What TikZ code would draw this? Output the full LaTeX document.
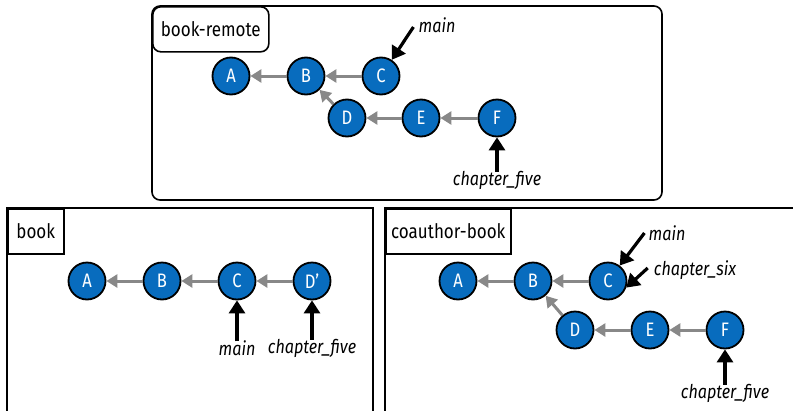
\documentclass[tikz,border=0pt]{standalone}
\usepackage{fontspec}
\setmainfont{Fira Sans}[FakeStretch=0.85]
\usetikzlibrary{arrows.meta}
\definecolor{commitblue}{RGB}{8,108,190}
\definecolor{parentgray}{RGB}{136,136,136}

\begin{document}
\begin{tikzpicture}[x=1pt, y=-1pt,
    commit/.style={draw, circle, line width=1.8pt, fill=commitblue, text=white, minimum size=37pt, inner sep=0pt, font=\fontsize{19.5}{22}\selectfont},
    parent/.style={-{Triangle[length=11pt, width=13pt]}, line width=3pt, draw=parentgray, fill=parentgray},
    branch/.style={-{Triangle[length=13pt, width=16pt]}, line width=3.2pt, black},
    reflabel/.style={font=\fontsize{19}{22}\selectfont\itshape, inner sep=1pt},
    repo/.style={draw, line width=1.6pt},
    repolabel/.style={draw, line width=1.6pt, anchor=north west, minimum height=45pt, inner sep=0pt, font=\fontsize{20}{24}\selectfont}]
    \useasboundingbox (0,0) rectangle (793,410);

    % book-remote
    \draw[repo, rounded corners=8pt] (152,6) rectangle (662,200);
    \node[repolabel, rounded corners=8pt, minimum width=116pt] (remote) at (152,6) {book-remote};
    \node[commit] (rA) at (231,76) {A};
    \node[commit] (rB) at (306,76) {B};
    \node[commit] (rC) at (381,76) {C};
    \node[commit] (rD) at (347,118) {D};
    \node[commit] (rE) at (421,118) {E};
    \node[commit] (rF) at (497,118) {F};
    \draw[parent] (rB) -- (rA);
    \draw[parent] (rC) -- (rB);
    \draw[parent] (rD) -- (rB);
    \draw[parent] (rE) -- (rD);
    \draw[parent] (rF) -- (rE);
    \node[reflabel] (rmain) at (437,25) {main};
    \node[reflabel] (rfive) at (497,180) {chapter\_five};
    \draw[branch] ([xshift=-4pt, yshift=-2pt]rmain.west) -- (rC);
    \draw[branch] ([yshift=-2pt]rfive.north) -- (rF);

    % book
    \draw[repo] (7,415) |- (373,208) -- (373,415);
    \node[repolabel, minimum width=56pt] (local) at (7,208) {book};
    \node[commit] (bA) at (87,281) {A};
    \node[commit] (bB) at (162,281) {B};
    \node[commit] (bC) at (237,281) {C};
    \node[commit] (bD) at (312,281) {D’};
    \draw[parent] (bB) -- (bA);
    \draw[parent] (bC) -- (bB);
    \draw[parent] (bD) -- (bC);
    \node[reflabel] (bmain) at (237,348) {main};
    \node[reflabel] (bfive) at (312,348) {chapter\_five};
    \draw[branch] ([yshift=-2pt]bmain.north) -- (bC);
    \draw[branch] ([yshift=-2pt]bfive.north) -- (bD);

    % coauthor-book
    \draw[repo] (385,415) |- (800,208);
    \node[repolabel, minimum width=125pt] (coauthor) at (385,208) {coauthor-book};
    \node[commit] (cA) at (458,281) {A};
    \node[commit] (cB) at (533,281) {B};
    \node[commit] (cC) at (608,281) {C};
    \node[commit] (cD) at (575,330) {D};
    \node[commit] (cE) at (650,330) {E};
    \node[commit] (cF) at (725,330) {F};
    \draw[parent] (cB) -- (cA);
    \draw[parent] (cC) -- (cB);
    \draw[parent] (cD) -- (cB);
    \draw[parent] (cE) -- (cD);
    \draw[parent] (cF) -- (cE);
    \node[reflabel] (cmain) at (667,233) {main};
    \node[reflabel] (csix) at (695,270) {chapter\_six};
    \node[reflabel] (cfive) at (725,393) {chapter\_five};
    \draw[branch] ([xshift=-3pt]cmain.west) -- (cC);
    \draw[branch] ([xshift=-5pt, yshift=2pt]csix.west) -- (cC.-20);
    \draw[branch] ([yshift=-2pt]cfive.north) -- (cF);
\end{tikzpicture}
\end{document}
